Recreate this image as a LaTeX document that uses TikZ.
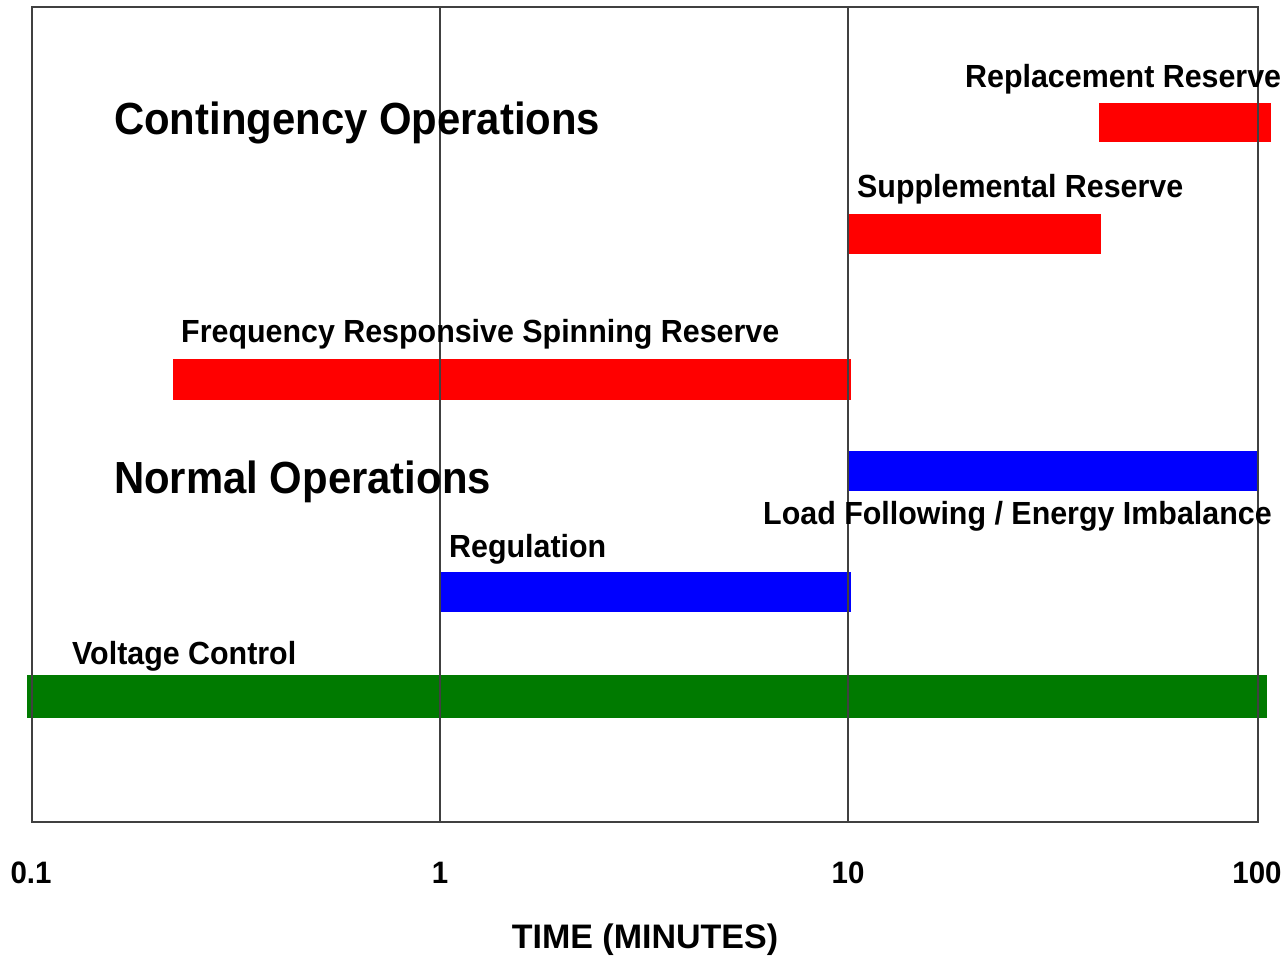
\documentclass[tikz,border=0pt]{standalone}
\usepackage{fontspec}
\setmainfont{Liberation Sans}
\newfontfamily\headsans{Liberation Sans Bold}[FakeStretch=0.93]
\newfontfamily\labelsans{Liberation Sans Bold}[FakeStretch=0.95]
\newfontfamily\axissans{Liberation Sans Bold}
\begin{document}
\begin{tikzpicture}[x=1pt,y=-1pt,
  frameline/.style={draw=black!75, line width=1.6pt},
  gridline/.style={draw=black!75, line width=1.4pt},
  label/.style={anchor=base west, inner sep=0pt, font=\labelsans\fontsize{32}{36}\selectfont},
  heading/.style={anchor=base west, inner sep=0pt, font=\headsans\fontsize{45}{50}\selectfont},
  ticklabel/.style={anchor=base, inner sep=0pt, font=\labelsans\fontsize{31}{36}\selectfont},
  redbar/.style={fill={rgb,255:red,255;green,0;blue,0}},
  bluebar/.style={fill={rgb,255:red,0;green,0;blue,255}},
  greenbar/.style={fill={rgb,255:red,0;green,122;blue,0}}]
\useasboundingbox (0,0) rectangle (1288,956);

% log time axis: 0.1, 1, 10, 100 minutes
\coordinate (t01top) at (32,7);   \coordinate (t01bot) at (32,822);
\coordinate (t1top) at (440,7);   \coordinate (t1bot) at (440,822);
\coordinate (t10top) at (848,7);  \coordinate (t10bot) at (848,822);
\coordinate (t100top) at (1258,7);\coordinate (t100bot) at (1258,822);

% bars
\fill[redbar]   (1099,103) rectangle (1271,142);
\fill[redbar]   (848,214) rectangle (1101,254);
\fill[redbar]   (173,359) rectangle (851,400);
\fill[bluebar]  (848,451) rectangle (1258,491);
\fill[bluebar]  (440,572) rectangle (851,612);
\fill[greenbar] (27,675) rectangle (1267,718);

% frame and decade lines
\draw[gridline] (t1top) -- (t1bot);
\draw[gridline] (t10top) -- (t10bot);
\draw[frameline] (t01top) rectangle (t100bot);

% section headings
\node[heading] (cont) at (114,134) {Contingency Operations};
\node[heading] (norm) at (114,493) {Normal Operations};

% service labels
\node[label] (repl) at (965,87)  {Replacement Reserve};
\node[label] (supp) at (857,197) {Supplemental Reserve};
\node[label] (frsr) at (181,342) {Frequency Responsive Spinning Reserve};
\node[label] (load) at (763,524) {Load Following / Energy Imbalance};
\node[label] (regu) at (449,557) {Regulation};
\node[label] (volt) at (72,664)  {Voltage Control};

% axis tick labels and title
\node[ticklabel] (l01)  at (31,883)   {0.1};
\node[ticklabel] (l1)   at (440,883)  {1};
\node[ticklabel] (l10)  at (848,883)  {10};
\node[ticklabel] (l100) at (1257,883) {100};
\node[anchor=base, inner sep=0pt, font=\axissans\fontsize{34}{40}\selectfont] (axis) at (645,948) {TIME (MINUTES)};
\end{tikzpicture}
\end{document}
